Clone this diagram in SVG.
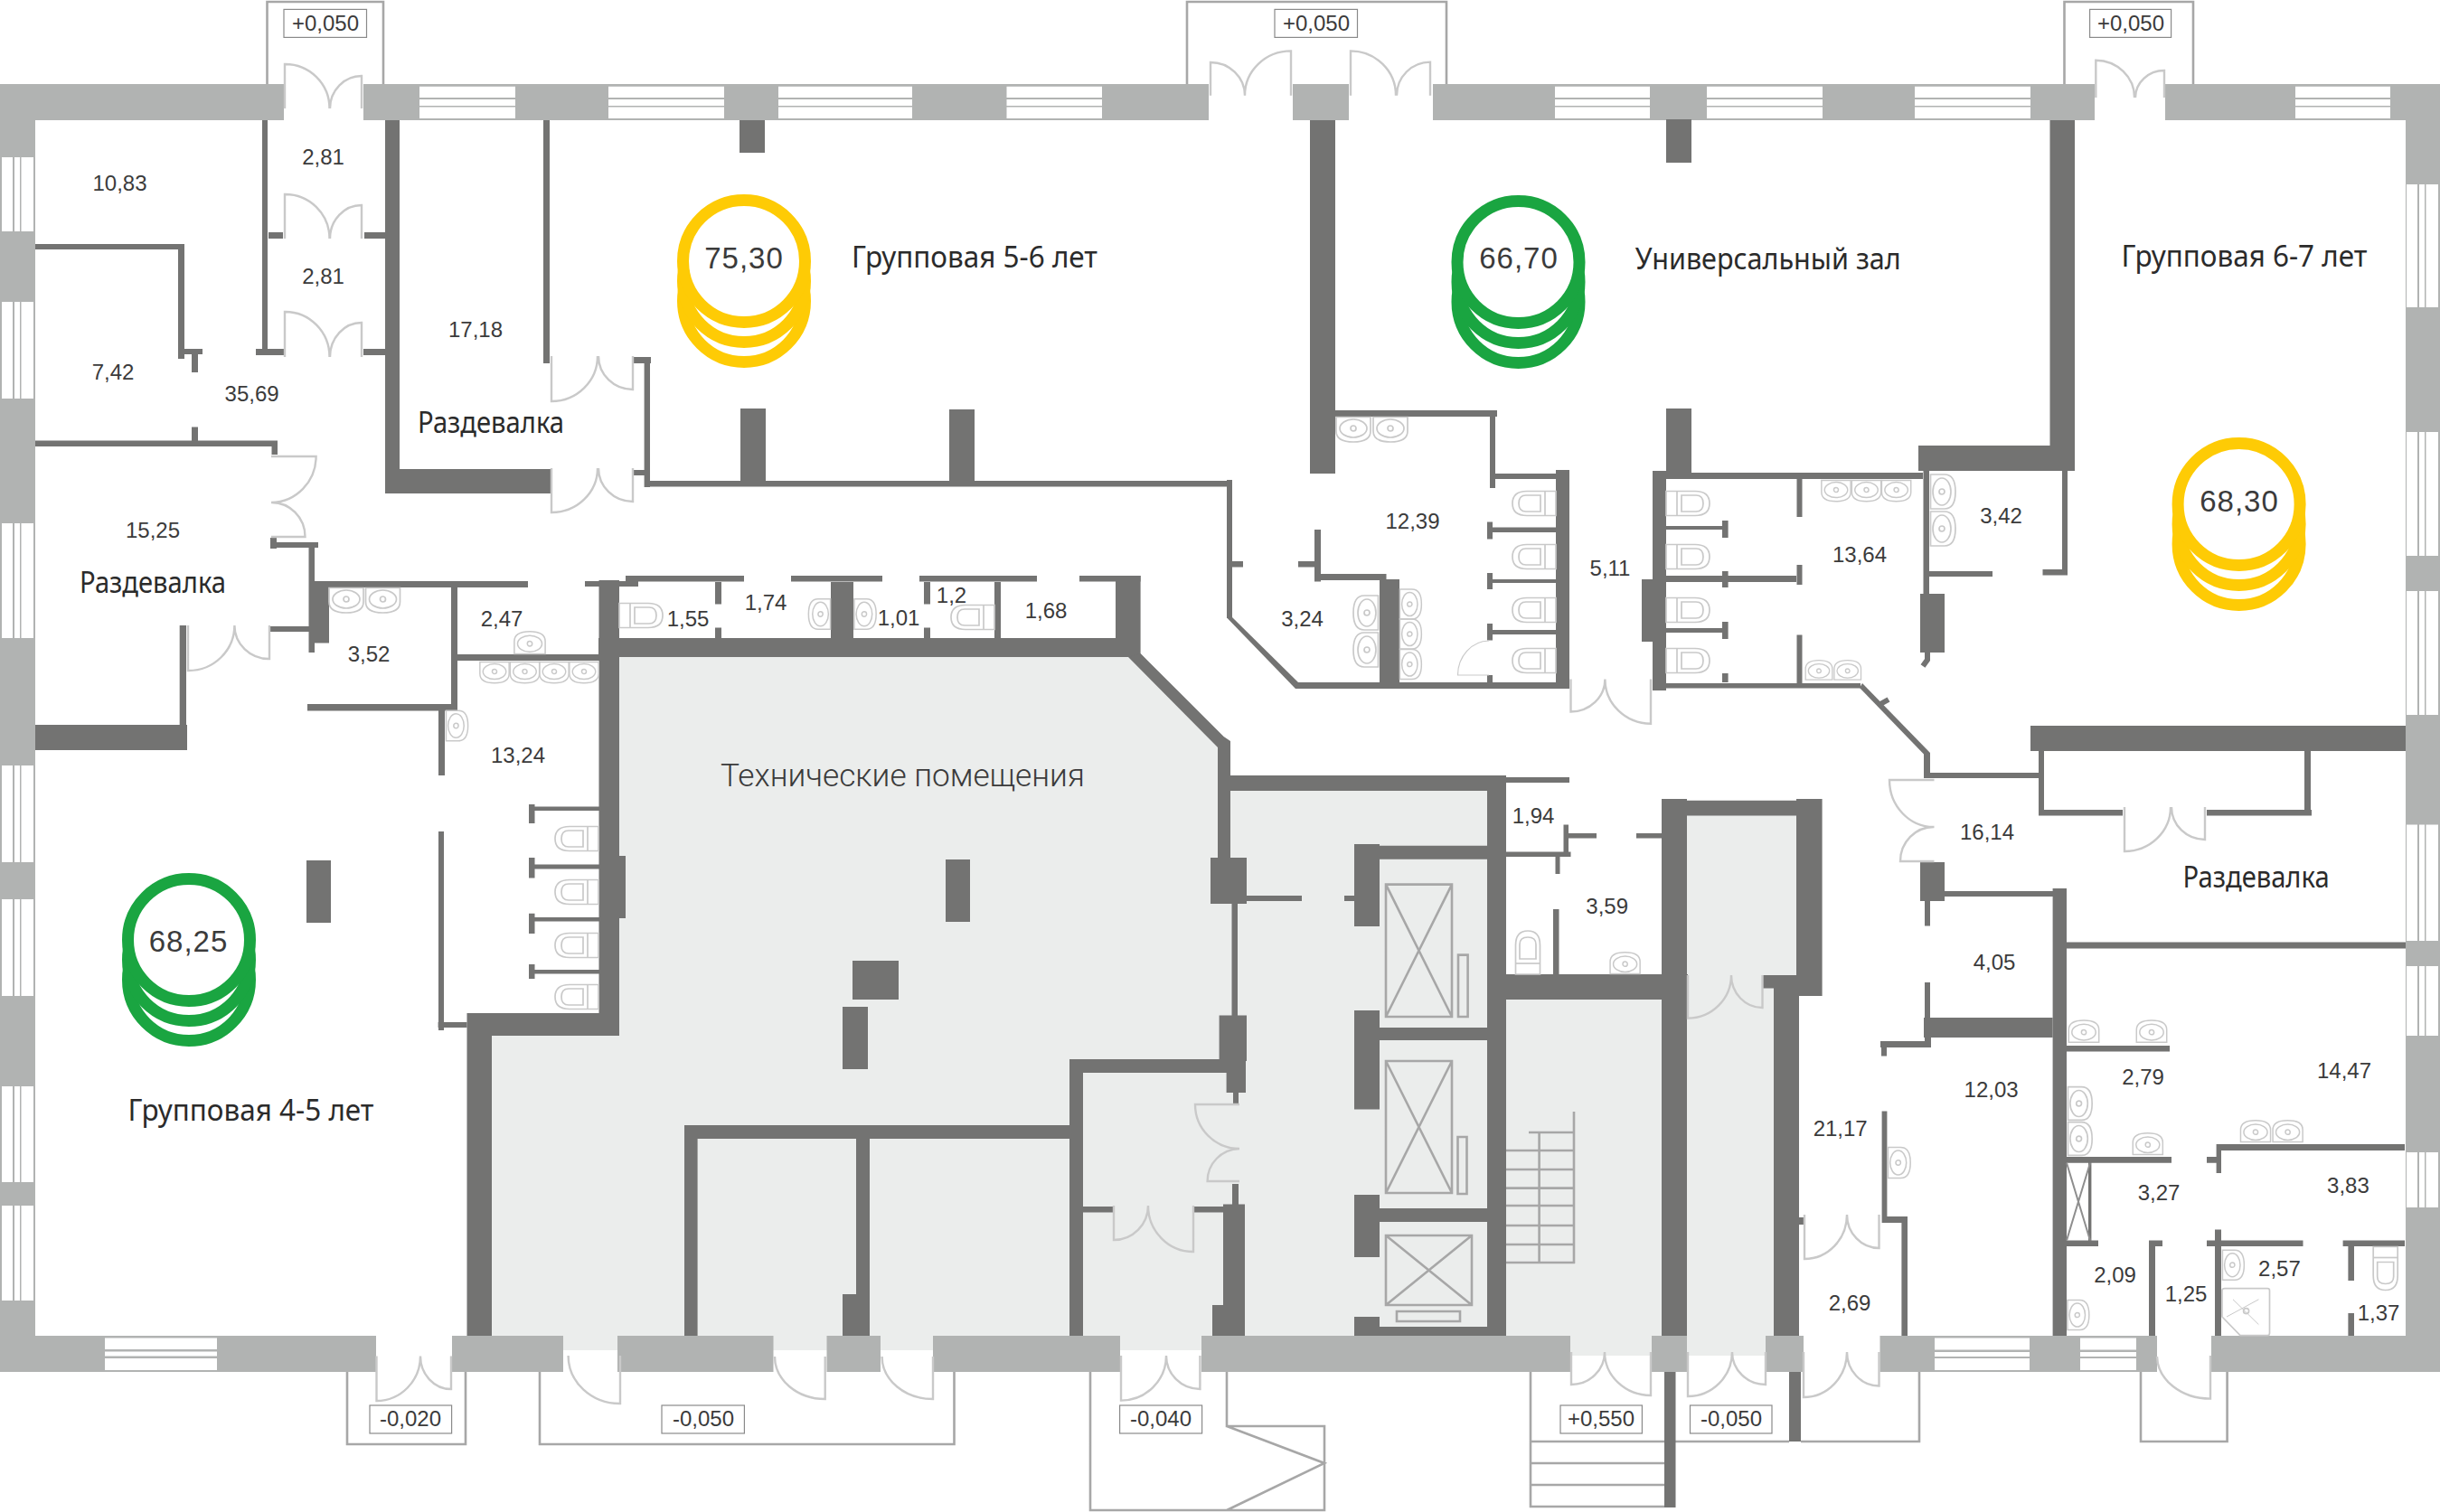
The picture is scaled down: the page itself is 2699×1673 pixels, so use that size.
<svg xmlns="http://www.w3.org/2000/svg" width="2699" height="1673" viewBox="0 0 2699 1673">
<style>
.outer{fill:#b1b3b2}.win{fill:#fff}.wall{fill:#737372}.tech{fill:#ebedec}
.door{fill:none;stroke:#c9c9c9;stroke-width:2.4}.thin{fill:none;stroke:#c9c9c9;stroke-width:1.2}
.line{fill:none;stroke:#a7a7a7;stroke-width:2.6}.fix{fill:none;stroke:#c9c9c9;stroke-width:1.7}
.box{fill:#fff;stroke:#8a8a8a;stroke-width:1.2}
text{font-family:"Liberation Sans",Arial,sans-serif;fill:#3b3b3b}
.a{font-size:24px;text-anchor:middle}.b{font-size:24px;text-anchor:middle}.c{font-size:33px;text-anchor:middle;letter-spacing:1px}
.t{font-family:"Noto Sans","Open Sans",sans-serif;fill:#2b2b2b;font-size:32px}
.h{font-family:Roboto,"Liberation Sans",sans-serif;font-weight:300;font-size:35px}
.ry{fill:#fff;stroke:#fecb05;stroke-width:13}.rg{fill:#fff;stroke:#1aa541;stroke-width:13}
</style>
<defs>
<g id="sink"><path d="M-19 .5V16Q-19 28 0 28Q19 28 19 16V.5Z"/><ellipse cy="13" rx="15" ry="10"/><circle cy="13" r="3"/></g>
<g id="wc"><path d="M0-13.5H-32Q-48-13.5-48 0Q-48 13.5-32 13.5H0Z"/><path d="M-17-9H-33Q-41-9-41 0Q-41 9-33 9H-17Z"/><path d="M-12-13.5V13.5"/></g>
<g id="coins"><circle cy="44" r="67.5"/><circle cy="22" r="67.5"/><circle r="67.5"/></g>
</defs>
<rect width="2699" height="1673" fill="#fff"/>
<path class="tech" d="M544 1146H670V720H1250L1352 825V866H1650V1090H1850V890H1995V1090H1975V1478H1953V1500H1737V1494H544Z"/>

<g id="porches" class="line">
<path d="M295.500 93V2H424V93M1313 93V2H1600V93M2283.500 93V2H2426V93"/>
<path d="M384 1518V1598H515V1518M597 1518V1598H1055.500V1518M1206 1518V1671H1465V1578H1357V1518M1357 1578L1465 1619L1357 1671"/>
<path d="M1693 1518V1667H1841M1693 1595H1841M1693 1619H1841M1693 1643H1841M1853 1595H1979M1992 1595H2123V1518M2368 1518V1595H2463.600V1518"/>
</g>

<g id="outer-walls">
<path class="outer" d="M0 93H314V133H39V1478H416V1518H0ZM402 93H1337V133H402ZM1430 93H1492V133H1430ZM1585 93H2317V133H1585ZM2395 93H2699V1518H2446V1478H2661V133H2395ZM500 1478H623V1518H500ZM683 1478H855.500V1518H683ZM914.500 1478H974V1518H914.500ZM1032 1478H1239V1518H1032ZM1329 1478H1737V1518H1329ZM1827 1478H1866V1518H1827ZM1953 1478H1995V1518H1953ZM2079.500 1478H2386V1518H2079.500Z"/>
<g class="win">
<path d="M464 95.700H570V108H464ZM464 110H570V117H464ZM464 118.500H570V131H464ZM673 95.700H801V108H673ZM673 110H801V117H673ZM673 118.500H801V131H673ZM861 95.700H1009V108H861ZM861 110H1009V117H861ZM861 118.500H1009V131H861ZM1113.500 95.700H1219V108H1113.500ZM1113.500 110H1219V117H1113.500ZM1113.500 118.500H1219V131H1113.500ZM1720 95.700H1825V108H1720ZM1720 110H1825V117H1720ZM1720 118.500H1825V131H1720ZM1888 95.700H2016V108H1888ZM1888 110H2016V117H1888ZM1888 118.500H2016V131H1888ZM2118 95.700H2246V108H2118ZM2118 110H2246V117H2118ZM2118 118.500H2246V131H2118ZM2539 95.700H2644V108H2539ZM2539 110H2644V117H2539ZM2539 118.500H2644V131H2539Z"/>
<path d="M2 174H14V256H2ZM16 174H22V256H16ZM23.500 174H37V256H23.500ZM2 334H14V441H2ZM16 334H22V441H16ZM23.500 334H37V441H23.500ZM2 579H14V706H2ZM16 579H22V706H16ZM23.500 579H37V706H23.500ZM2 847H14V954H2ZM16 847H22V954H16ZM23.500 847H37V954H23.500ZM2 995H14V1102H2ZM16 995H22V1102H16ZM23.500 995H37V1102H23.500ZM2 1202H14V1308H2ZM16 1202H22V1308H16ZM23.500 1202H37V1308H23.500ZM2 1334H14V1439H2ZM16 1334H22V1439H16ZM23.500 1334H37V1439H23.500Z"/>
<path d="M2662 204H2674V340H2662ZM2676 204H2682V340H2676ZM2683.500 204H2697V340H2683.500ZM2662 478H2674V615H2662ZM2676 478H2682V615H2676ZM2683.500 478H2697V615H2683.500ZM2662 654H2674V791H2662ZM2676 654H2682V791H2676ZM2683.500 654H2697V791H2683.500ZM2662 912.500H2674V1041H2662ZM2676 912.500H2682V1041H2676ZM2683.500 912.500H2697V1041H2683.500ZM2662 1069H2674V1146H2662ZM2676 1069H2682V1146H2676ZM2683.500 1069H2697V1146H2683.500ZM2662 1275H2674V1336H2662ZM2676 1275H2682V1336H2676ZM2683.500 1275H2697V1336H2683.500Z"/>
<path d="M116 1480.500H240V1493H116ZM116 1495.500H240V1500.500H116ZM116 1503H240V1516H116ZM2140 1480.500H2245V1493.500H2140ZM2140 1496H2245V1501H2140ZM2140 1503H2245V1516H2140ZM2301 1480.500H2363V1493.500H2301ZM2301 1496H2363V1501H2301ZM2301 1503H2363V1516H2301Z"/>
</g>
</g>

<g id="walls">
<path class="wall" d="M290 133H296V389H290ZM297 257H313V264H297ZM403 257H426V264H403ZM283 386H315V393H283ZM402 386H426V393H402ZM426 133H442V519H609V546H426ZM601 133H608V402H601ZM701 395H720V402H701ZM712.600 395H719V539H712.600ZM700 520H713V526H700ZM713 532H1360V538.600H713ZM1357 531H1363V684H1357ZM1362.500 621H1375V627.500H1362.500ZM1436 621H1455V627.500H1436ZM1454 586H1461V643.600H1454ZM1454 635H1533.500V642H1454ZM1526 641H1548V755H1526ZM1433 755H1736V762H1433ZM1449 133H1477V524H1449ZM1477 454H1656V461H1477ZM1648 454H1654V540H1648ZM1654 524H1721V530H1654ZM1721 520H1736V762H1721ZM1648 583.600H1721V589H1648ZM1645 577.500H1651V596.400H1645ZM1648 641H1721V645H1648ZM1645 634H1651V652H1645ZM1648 697H1721V702H1648ZM1645 690H1651V708.600H1645ZM1645 747H1651V755H1645Z"/>
<path class="wall" d="M1828 521H1843V764H1828ZM1816 641H1843V710H1816ZM1843 452H1871V523H1843ZM1843 132H1871V180H1843ZM818 133H846V169H818ZM819 452H847V532H819ZM1050 453H1078V532H1050ZM1828 523H2127V530H1828ZM1987.500 530H1993.500V572H1987.500ZM1987.500 625H1993.500V647H1987.500ZM1987.500 702.500H1993.500V761H1987.500ZM1843 582H1911.600V586H1843ZM1905 576H1911.600V595H1905ZM1843 637H1987V644H1843ZM1905 632H1911.600V650H1905ZM1843 695H1911.600V700H1843ZM1905 688H1911.600V707H1905ZM1905 745H1911.600V755H1905ZM1843 756H2058V761.500H1843Z"/>
<path class="wall" d="M2128 833H2135V861H2128ZM2135 855H2257V861H2135ZM2255 830H2261V902.500H2255ZM2255 896H2348V902.500H2255ZM2441 896H2557V902.500H2441ZM2549 830H2556V897H2549ZM2246 803H2661V831H2246ZM2124 954H2151V997H2124ZM2151 986H2272V992H2151ZM2270.600 983H2286V1478H2270.600ZM2129 997H2135V1024.600H2129ZM2129 1087H2135V1148H2129ZM2286 1042.500H2661V1049.500H2286ZM2267.500 133H2295V521H2122V493H2267.500ZM2281 521H2287V636.400H2281ZM2259.500 630H2287V636.400H2259.500ZM2134 632H2204V638H2134ZM2127.500 521H2134V658H2127.500ZM2124 657H2151V722H2124Z"/>
<path class="wall" d="M39 270H204V276H39ZM197 270H204V397H197ZM197 386H224V392H197ZM212 392H219V412H212ZM212 472.500H219V494H212ZM39 487.500H307V494H39ZM300.500 487.500H307V503H300.500ZM299 600H352V606H299ZM299 595H306V607H299ZM341.500 600H348V722H341.500ZM341.500 643.600H364V711.400H341.500ZM348 643H584V650H348ZM647 643H706V649H647ZM692 637H823V643.600H692ZM875 637H976V643.600H875ZM1017 637H1147V643.600H1017ZM1194 637H1261.600V643.600H1194ZM198.700 692H206V802.500H198.700ZM39 802H207V830H39ZM298 693H341.500V699H298ZM340 779H505V786.400H340ZM499 650H506V786H499ZM506 724H663V731H506ZM485 785.700H492V858H485ZM485 920H491V1140H485ZM484.600 1131H516.500V1137H484.600ZM591.500 892.500H663V897H591.500ZM585 890H591.500V911H585ZM591.500 956.400H663V961.400H591.500ZM585 949H591.500V971.400H585ZM591.500 1015H663V1019.600H591.500ZM585 1010.700H591.500V1033H585ZM591.500 1073H663V1077.500H591.500ZM585 1067H591.500V1083H585ZM339 952H366V1021H339Z"/>
<path class="wall" d="M662.500 642H685V1146H544V1478H516.500V1121H662.500ZM685 947H692V1016H685ZM662 706H1261.600V727H662ZM791 644H798V668.600H791ZM791 694.600H798V706H791ZM919 644H944V706H919ZM1022 644H1029V668.600H1022ZM1022 694.600H1029V706H1022ZM1100 644H1107V706H1100ZM1234 637H1261.600V727H1234ZM1046 951H1073V1020H1046ZM943 1063H994V1106H943ZM932 1114H960V1183H932ZM757 1245H1183V1260H771.600V1478H757ZM947 1260H962V1478H947ZM932 1432H947V1478H932ZM1183 1172H1360V1187H1198V1478H1183ZM1348.600 1123.600H1379V1174H1348.600ZM1356.600 1174H1378V1209H1356.600ZM1364 1209H1370V1221H1364ZM1363 1310H1370V1332.600H1363ZM1353 1332.600H1377V1478H1353ZM1341 1444H1353V1478H1341ZM1198 1335H1232V1341.600H1198ZM1321 1335H1353V1341.600H1321ZM1347 858H1661.600V875H1361V949H1347ZM1661.600 860H1736V866H1661.600ZM1339 949H1379V1000H1339ZM1379 991H1440V997H1379ZM1487 991H1498V997H1487ZM1362.500 1000H1369V1123.600H1362.500Z"/>
<path class="wall" d="M1645 858H1666V1478H1645ZM1526 935.700H1646V950.700H1526ZM1498 934H1526V1025H1498ZM1498 1118H1526V1227.500H1498ZM1498 1322H1526V1391H1498ZM1498 1457H1526V1478H1498ZM1526 1137H1645V1151H1526ZM1526 1337H1645V1352H1526ZM1526 1468H1645V1478H1526ZM1666 1078H1867V1106H1666ZM1838 884H1866V1478H1838ZM1838 885.700H2015V902.500H1838ZM1987 884H2015.600V1102H1987ZM1950 1079H1987V1093.500H1950ZM1962 1079H1990V1478H1962ZM1729.500 912.500H1735V943.600H1729.500ZM1735 922H1766V927.500H1735ZM1810 922H1838V927.500H1810ZM1666 942.500H1737.500V948H1666ZM1720.500 948H1725.500V967H1720.500ZM1718 1006H1724.500V1078H1718ZM1841 1518H1853.500V1668H1841ZM1979 1518H1992V1595H1979Z"/>
<path class="wall" d="M2128 1126H2270.600V1148H2128ZM2080 1152H2136V1159H2080ZM2129 1148H2136V1159H2129ZM2081 1159H2087V1168.600H2081ZM2081.600 1229.600H2087.400V1352H2081.600ZM2081.600 1346H2110V1353H2081.600ZM2103.400 1346H2110V1478H2103.400ZM1990 1347H1996V1355H1990ZM2286 1157H2400V1163.500H2286ZM2286 1280H2402V1286.700H2286ZM2441 1280H2452V1286.700H2441ZM2451.600 1266H2457V1298H2451.600ZM2451.600 1266H2660V1273H2451.600ZM2450 1360.500H2457V1478H2450ZM2441 1372.500H2547.500V1379H2441ZM2591.600 1372.500H2660V1379H2591.600ZM2597.400 1379H2604V1417H2597.400ZM2597.400 1453H2604V1478H2597.400ZM2377 1372.500H2384V1478H2377ZM2377 1372.500H2392V1379H2377ZM2286 1372.500H2321V1379H2286ZM2310 1286H2313.400V1373H2310Z"/>
<polygon class="wall" points="1248,727 1261.600,723 1353.600,815 1361,820 1361,875 1347,875 1347,827"/>
<polygon class="wall" points="1357.600,684 1363,683 1436,755 1433,762"/>
<polygon class="wall" points="2060,756 2135,833 2128,834.600 2057,761"/>
<path d="M2080 779L2089 774M2132 722V730L2127 737" fill="none" stroke="#737372" stroke-width="6"/>
<path d="M2286 1286.700L2312 1372.500M2312 1286.700L2286 1372.500" fill="none" stroke="#8e8e8e" stroke-width="2"/>
</g>

<g id="doors">
<path class="door" d="M315 120V71A49 49 0 0 1 364.500 120M400 120V84A35 36 0 0 0 365 120M315 264V215A49 49 0 0 1 364.500 264M400 264V227A35 37 0 0 0 365 264M315 395V345A49 50 0 0 1 364.500 395M400 395V357A35 38 0 0 0 365 395"/>
<path class="door" d="M610 394V444A51 50 0 0 0 661 394M700 394V431A38 37 0 0 1 662 394M610 518V567A51 49 0 0 0 661 518M700 518V555A38 37 0 0 1 662 518"/>
<path class="door" d="M300 505H349.600A50 51 0 0 1 300 556M300 594H337.500A37 38 0 0 0 300 556M208 692V742A51 50 0 0 0 259.400 692M298 692V729A38 37 0 0 1 259.400 692"/>
<path class="door" d="M1339 105.700V69A38 37 0 0 1 1377 105.700M1428 105.700V56.400A51 49 0 0 0 1377 105.700M1494 105.700V56.400A50 49 0 0 1 1544 105.700M1582 105.700V68.600A37 37 0 0 0 1545 105.700M2318.300 108V66.800A43 41 0 0 1 2361 108M2394 108V78A32 30 0 0 0 2362 108"/>
<path class="door" d="M1737.500 751.400V787.500A38 36 0 0 0 1775.400 751.400M1826 751.400V800.700A51 49 0 0 1 1775.400 751.400M2350 893V942A51 49 0 0 0 2401 893M2439 893V929A37 36 0 0 1 2402 893"/>
<path class="door" d="M2139.500 863H2090A49 52 0 0 0 2139.500 915M2139.500 953H2102A37 38 0 0 1 2139.500 915M1371 1222H1322A49 49 0 0 0 1371 1271M1371 1307H1335.600A36 36 0 0 1 1371 1271"/>
<path class="door" d="M1232 1334V1372A38 38 0 0 0 1270 1334M1320 1334V1385A50 51 0 0 1 1270 1334M1867 1079V1126.600A48 47.600 0 0 0 1915 1079M1949.500 1079V1115A34.500 36 0 0 1 1915 1079M1996 1344V1393A47 49 0 0 0 2043 1344M2078.500 1344V1381A35.500 37 0 0 1 2043 1344"/>
<path class="door" d="M416.500 1500.500V1550A48.500 49.500 0 0 0 465 1500.500M499 1500.500V1537A34 36.500 0 0 1 465 1500.500M686 1500V1553A57 53 0 0 1 628.600 1500M912.700 1501V1548A55.700 47 0 0 1 857 1501M1032 1501V1548A56.400 47 0 0 1 975.600 1501M1240 1500V1549.600A50 49.600 0 0 0 1290 1500M1327.400 1500V1537A37.400 37 0 0 1 1290 1500"/>
<path class="door" d="M1738 1496V1532A37 36 0 0 0 1775 1496M1826 1496V1544A51 48 0 0 1 1775 1496M1867 1496V1545A49 49 0 0 0 1916 1496M1953 1496V1532A37 36 0 0 1 1916 1496M1995 1496V1546A48 50 0 0 0 2043 1496M2078.500 1496V1533.500A35.500 37.500 0 0 1 2043 1496M2445 1500V1547.600A59 47.600 0 0 1 2386 1501"/>
<path class="thin" d="M1647 709A35 38 0 0 0 1612.500 747H1647"/>
</g>

<g id="fixtures" class="fix">
<use href="#sink" transform="translate(1497 461)"/><use href="#sink" transform="translate(1538 461)"/>
<use href="#sink" transform="translate(383 650)"/><use href="#sink" transform="translate(423.500 650)"/>
<use href="#sink" transform="translate(586 724) rotate(180) scale(.9)"/>
<use href="#sink" transform="translate(547 732) scale(.85)"/><use href="#sink" transform="translate(580.500 732) scale(.85)"/><use href="#sink" transform="translate(613 732) scale(.85)"/><use href="#sink" transform="translate(646 732) scale(.85)"/>
<use href="#sink" transform="translate(493 803) rotate(-90) scale(.88)"/>
<use href="#sink" transform="translate(1525 678) rotate(90)"/><use href="#sink" transform="translate(1525 719) rotate(90)"/>
<use href="#sink" transform="translate(1548 668.500) rotate(-90) scale(.87)"/><use href="#sink" transform="translate(1548 701.500) rotate(-90) scale(.87)"/><use href="#sink" transform="translate(1548 735) rotate(-90) scale(.87)"/>
<use href="#sink" transform="translate(2031 531) scale(.85)"/><use href="#sink" transform="translate(2064.500 531) scale(.85)"/><use href="#sink" transform="translate(2097.600 531) scale(.85)"/>
<use href="#sink" transform="translate(2135 544) rotate(-90)"/><use href="#sink" transform="translate(2135 585) rotate(-90)"/>
<use href="#sink" transform="translate(2012 752.500) rotate(180) scale(.78)"/><use href="#sink" transform="translate(2043.700 752.500) rotate(180) scale(.78)"/>
<use href="#sink" transform="translate(2305 1153.600) rotate(180) scale(.88)"/><use href="#sink" transform="translate(2380 1153.600) rotate(180) scale(.88)"/>
<use href="#sink" transform="translate(2287 1221) rotate(-90) scale(.97)"/><use href="#sink" transform="translate(2287 1260) rotate(-90) scale(.97)"/>
<use href="#sink" transform="translate(2375.800 1278) rotate(180) scale(.87)"/><use href="#sink" transform="translate(2495 1264) rotate(180) scale(.87)"/><use href="#sink" transform="translate(2530.600 1264) rotate(180) scale(.87)"/>
<use href="#sink" transform="translate(2088 1286.500) rotate(-90) scale(.9)"/><use href="#sink" transform="translate(2458 1399.700) rotate(-90) scale(.87)"/><use href="#sink" transform="translate(2286.500 1455) rotate(-90) scale(.87)"/>
<use href="#sink" transform="translate(1797.600 1078) rotate(180) scale(.87)"/>
<use href="#sink" transform="translate(919 679.500) rotate(90) scale(.88)"/><use href="#sink" transform="translate(944.500 679.500) rotate(-90) scale(.88)"/>
<use href="#wc" transform="translate(1721 557)"/><use href="#wc" transform="translate(1721 616)"/><use href="#wc" transform="translate(1721 675)"/><use href="#wc" transform="translate(1721 731)"/>
<use href="#wc" transform="translate(1843 557) rotate(180)"/><use href="#wc" transform="translate(1843 616) rotate(180)"/><use href="#wc" transform="translate(1843 675) rotate(180)"/><use href="#wc" transform="translate(1843 731) rotate(180)"/>
<use href="#wc" transform="translate(662 928)"/><use href="#wc" transform="translate(662 987)"/><use href="#wc" transform="translate(662 1046)"/><use href="#wc" transform="translate(662 1103)"/>
<use href="#wc" transform="translate(685 681) rotate(180)"/><use href="#wc" transform="translate(1100 683)"/>
<use href="#wc" transform="translate(1690 1078) rotate(90)"/><use href="#wc" transform="translate(2638.700 1379.500) rotate(-90)"/>
<path d="M2461 1425.700H2508Q2510.500 1425.700 2510.500 1428V1475Q2510.500 1477.700 2508 1477.700H2478L2458 1457V1428Q2458 1425.700 2461 1425.700Z"/>
<path d="M2470 1437.800L2498.400 1465.600M2498.400 1437.800L2463 1457" stroke-width="1"/><circle cx="2484.600" cy="1450.600" r="3"/>
</g>

<g id="lifts-stairs" class="line">
<path d="M1533 978.600H1606V1125H1533ZM1533 978.600L1606 1125M1606 978.600L1533 1125M1613 1056.600H1623.600V1125H1613Z"/>
<path d="M1533 1174H1606V1320H1533ZM1533 1174L1606 1320M1606 1174L1533 1320M1612.500 1258H1622.500V1321H1612.500Z"/>
<path d="M1533 1367H1628V1444H1533ZM1533 1367L1628 1444M1628 1367L1533 1444M1545 1451H1615V1462H1545Z"/>
<path d="M1741 1230V1398M1691 1253H1742M1666 1273H1742M1666 1294H1742M1666 1314.600H1742M1666 1334H1742M1666 1356H1742M1666 1377H1742M1666 1397H1742M1702.600 1253V1397"/>
</g>

<g id="badge-yellow-1"><use class="ry" href="#coins" transform="translate(823 289)"/><text class="c" x="823" y="296.500">75,30</text></g>
<g id="badge-green-1"><use class="rg" href="#coins" transform="translate(1679.500 290)"/><text class="c" x="1680" y="296.500">66,70</text></g>
<g id="badge-yellow-2"><use class="ry" href="#coins" transform="translate(2476.600 558)"/><text class="c" x="2477" y="565.700">68,30</text></g>
<g id="badge-green-2"><use class="rg" href="#coins" transform="translate(209 1040)"/><text class="c" x="208.500" y="1052.500">68,25</text></g>

<g id="level-marks">
<rect class="box" x="314" y="10.400" width="91.500" height="31"/><text class="b" x="360" y="33.500">+0,050</text>
<rect class="box" x="1410" y="10.400" width="91.500" height="31"/><text class="b" x="1456" y="33.500">+0,050</text>
<rect class="box" x="2311.600" y="10.400" width="90" height="31"/><text class="b" x="2357" y="33.500">+0,050</text>
<rect class="box" x="409" y="1555" width="90.600" height="31"/><text class="b" x="454" y="1578">-0,020</text>
<rect class="box" x="732" y="1555" width="91.400" height="31"/><text class="b" x="778" y="1578">-0,050</text>
<rect class="box" x="1238.600" y="1555" width="91" height="31"/><text class="b" x="1284" y="1578">-0,040</text>
<rect class="box" x="1726" y="1555" width="90.400" height="31"/><text class="b" x="1771" y="1578">+0,550</text>
<rect class="box" x="1869.500" y="1555" width="90.500" height="31"/><text class="b" x="1915" y="1578">-0,050</text>
</g>

<g id="room-names">
<text class="t" x="942" y="295.700" textLength="272" lengthAdjust="spacingAndGlyphs">Групповая 5-6 лет</text>
<text class="t" x="1808.700" y="298" textLength="294" lengthAdjust="spacingAndGlyphs">Универсальный зал</text>
<text class="t" x="2346.400" y="294.600" textLength="272" lengthAdjust="spacingAndGlyphs">Групповая 6-7 лет</text>
<text class="t" x="141.500" y="1239.800" textLength="272" lengthAdjust="spacingAndGlyphs">Групповая 4-5 лет</text>
<text class="t" x="462" y="479" textLength="162" lengthAdjust="spacingAndGlyphs">Раздевалка</text>
<text class="t" x="88" y="656" textLength="162" lengthAdjust="spacingAndGlyphs">Раздевалка</text>
<text class="t" x="2414.600" y="982" textLength="162" lengthAdjust="spacingAndGlyphs">Раздевалка</text>
<text class="h" x="797" y="870" textLength="403" lengthAdjust="spacingAndGlyphs">Технические помещения</text>
</g>

<g id="areas">
<text class="a" x="132.500" y="210.700">10,83</text><text class="a" x="357.500" y="182">2,81</text><text class="a" x="357.500" y="313.600">2,81</text><text class="a" x="125" y="419.600">7,42</text><text class="a" x="278.600" y="444">35,69</text><text class="a" x="526" y="372.500">17,18</text>
<text class="a" x="169" y="594.600">15,25</text><text class="a" x="408" y="731.800">3,52</text><text class="a" x="555" y="693">2,47</text><text class="a" x="573" y="843.600">13,24</text>
<text class="a" x="761" y="693">1,55</text><text class="a" x="847" y="675">1,74</text><text class="a" x="994" y="692">1,01</text><text class="a" x="1052.500" y="667">1,2</text><text class="a" x="1157" y="684">1,68</text>
<text class="a" x="1562.500" y="584.600">12,39</text><text class="a" x="1440.500" y="692.500">3,24</text><text class="a" x="1781" y="637">5,11</text><text class="a" x="1696" y="911.400">1,94</text><text class="a" x="1777.700" y="1011">3,59</text>
<text class="a" x="2057" y="622">13,64</text><text class="a" x="2213.500" y="578.600">3,42</text><text class="a" x="2198" y="928.600">16,14</text><text class="a" x="2206" y="1073">4,05</text>
<text class="a" x="2370.500" y="1199.600">2,79</text><text class="a" x="2593" y="1193">14,47</text><text class="a" x="2202.600" y="1213.700">12,03</text><text class="a" x="2035.700" y="1256.600">21,17</text><text class="a" x="2388" y="1327.500">3,27</text><text class="a" x="2597.400" y="1319.700">3,83</text><text class="a" x="2521.400" y="1412">2,57</text><text class="a" x="2339.500" y="1418.500">2,09</text><text class="a" x="2418" y="1440">1,25</text><text class="a" x="2631" y="1461">1,37</text><text class="a" x="2046" y="1450">2,69</text>
</g>
</svg>
